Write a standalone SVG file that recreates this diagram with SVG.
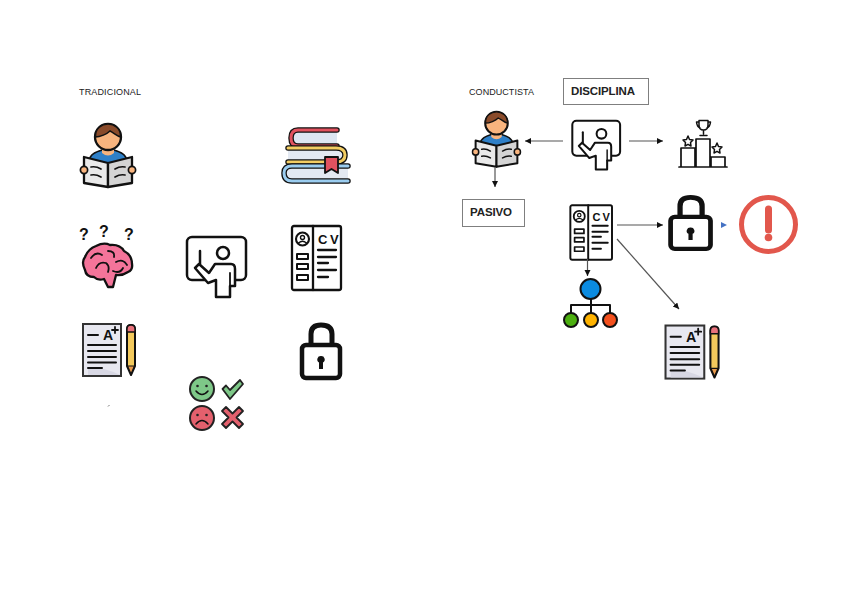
<svg xmlns="http://www.w3.org/2000/svg" width="848" height="599" viewBox="0 0 848 599">
<style>
.lbl{font-family:"Liberation Sans",Arial,sans-serif;fill:#222}
.small{font-size:9px}
.big{font-size:11.5px;font-weight:bold}
.box{fill:#fff;stroke:#7f7f7f;stroke-width:1}
.k{fill:none;stroke:#111;stroke-linecap:round;stroke-linejoin:round}
.w{fill:#fff;stroke:#111;stroke-linejoin:round}
.con{fill:none;stroke:#555;stroke-width:1.2}
.q{font-family:"Liberation Sans",Arial,sans-serif;font-size:16px;font-weight:bold;fill:#111;text-anchor:middle}
</style>
<defs>
<marker id="ah" markerWidth="8" markerHeight="8" refX="6" refY="3" orient="auto" markerUnits="userSpaceOnUse"><path d="M0 0L6 3L0 6Z" fill="#111"/></marker>
<g id="reader">
<path d="M8 38C9 31 15 29 21 27H33C39 29 45 31 46 38L27 44Z" fill="#2f80c8" stroke="#111" stroke-width="1.800"/>
<path d="M21 22H33V30Q27 35 21 30Z" fill="#f8b47e"/>
<circle cx="27" cy="14" r="13" fill="#f8b47e" stroke="#111" stroke-width="2.300"/>
<path d="M14.500 14C14 5 21 1 27 1C33 1 40 5 39.500 14C36 13 33 10 29 8C26 11 19 14 14.500 14Z" fill="#8a4b2a" stroke="#111" stroke-width="1.500"/>
<path d="M3 34L27 40L27 64L3 60Z" fill="#e9e9e9" stroke="#111" stroke-width="2.300" stroke-linejoin="round"/>
<path d="M51 34L27 40L27 64L51 60Z" fill="#d4d4d4" stroke="#111" stroke-width="2.300" stroke-linejoin="round"/>
<path class="k" stroke-width="1.700" d="M10 44Q15 43 20 46M10 52Q15 51 20 54M34 46Q39 43 44 44M34 54Q39 51 44 52"/>
<circle cx="3" cy="47" r="3.600" fill="#f8b47e" stroke="#111" stroke-width="1.700"/>
<circle cx="51" cy="47" r="3.600" fill="#f8b47e" stroke="#111" stroke-width="1.700"/>
</g>
<g id="teacher">
<rect x="1" y="1" width="59" height="43" rx="5" fill="#fff" stroke="#111" stroke-width="2.500"/>
<circle cx="37" cy="17" r="6" fill="#fff" stroke="#111" stroke-width="2.500"/>
<path class="k" stroke-width="2.500" d="M14 15V28"/>
<path class="w" stroke-width="2.500" d="M9 32L13 28L23 37L29 28H45Q49 28 49 33V50H44V61H30V44L22 47Z"/>
<path class="k" stroke-width="1.800" d="M44 37V50"/>
</g>
<g id="cv">
<rect x="1" y="1" width="49" height="64" rx="2" fill="#fff" stroke="#111" stroke-width="2.300"/>
<path class="k" stroke-width="2.300" d="M22 1V65"/>
<circle cx="11.500" cy="14" r="6.500" fill="none" stroke="#111" stroke-width="2.100"/>
<circle cx="11.500" cy="12.500" r="2" fill="none" stroke="#111" stroke-width="1.400"/>
<path class="k" stroke-width="1.400" d="M7.500 18Q11.500 14.500 15.500 18"/>
<path class="k" stroke-width="2" fill="none" d="M6 29H17V34H6ZM6 39H17V44H6ZM6 50H17V55H6Z"/>
<text x="27" y="19" font-family="Liberation Sans,Arial,sans-serif" font-size="13" font-weight="bold" letter-spacing="2.500" fill="#111">CV</text>
<path class="k" stroke-width="2.300" d="M27 25H45M27 32H45M27 38H37M27 45H45M27 52H37"/>
</g>
<g id="lock">
<path class="k" stroke-width="5" d="M11 23V11Q11 2 21 2Q32 2 32 11V23"/>
<rect x="2" y="22" width="38" height="33" rx="4" fill="#fff" stroke="#111" stroke-width="4.500"/>
<path d="M21 33a3.500 3.500 0 0 1 2 6.500V46H19V39.500A3.500 3.500 0 0 1 21 33Z" fill="#111"/>
</g>
<g id="paper">
<rect x="1" y="1" width="38" height="52" fill="#e8e8f0" stroke="#333" stroke-width="2"/>
<path d="M6 44Q22 44 38 52H6Z" fill="#d8d8e4"/>
<path class="k" stroke-width="2" d="M6 12H16M6 22H34M6 28H34M6 34H34M6 39.500H34M6 45H20"/>
<text x="21" y="17" font-family="Liberation Sans,Arial,sans-serif" font-size="14" font-weight="bold" fill="#111">A</text>
<path class="k" stroke-width="1.800" d="M33 4V10M30 7H36"/>
<path d="M45 6Q45 2 49 2Q53 2 53 6V43L49 52L45 43Z" fill="#f3c95c" stroke="#111" stroke-width="2" stroke-linejoin="round"/>
<path d="M45 6Q45 2 49 2Q53 2 53 6V9H45Z" fill="#e9727c" stroke="#111" stroke-width="1.400"/>
<path d="M45.500 43H52.500L49 51Z" fill="#e89a4c" stroke="#111" stroke-width="1.200"/>
</g>
</defs>
<rect width="848" height="599" fill="#fff"/>

<g id="label-tradicional"><text class="lbl small" x="79" y="95" textLength="62">TRADICIONAL</text></g>
<g id="label-conductista"><text class="lbl small" x="469" y="95" textLength="65">CONDUCTISTA</text></g>

<g id="reader-left"><use href="#reader" transform="translate(81,123)"/></g>

<g id="books">
<path d="M337 130H298Q291 130 291 138Q291 146 298 146H337V130Z" fill="#dde6f2"/>
<path class="k" stroke-width="5.500" d="M337 130H298Q291 130 291 138Q291 146 298 146H337"/>
<path fill="none" stroke="#e1525f" stroke-width="3" stroke-linecap="round" d="M337 130H298Q291 130 291 138Q291 146 298 146H337"/>
<path d="M288 148H336Q345 148 345 155Q345 162 336 162H288V148Z" fill="#e3e9f2"/>
<path class="k" stroke-width="5.500" d="M288 148H336Q345 148 345 155Q345 162 336 162H288"/>
<path fill="none" stroke="#f3cd63" stroke-width="3" stroke-linecap="round" d="M288 148H336Q345 148 345 155Q345 162 336 162H288"/>
<path d="M348 166H292Q284 166 284 173Q284 181 292 181H348V166Z" fill="#e3e9f2"/>
<path class="k" stroke-width="5.500" d="M348 166H292Q284 166 284 173Q284 181 292 181H348"/>
<path fill="none" stroke="#9bcdf0" stroke-width="3" stroke-linecap="round" d="M348 166H292Q284 166 284 173Q284 181 292 181H348"/>
<path d="M325 157H338V173L331.500 169L325 173Z" fill="#e1525f" stroke="#111" stroke-width="1.800" stroke-linejoin="round"/>
</g>

<g id="brain">
<text class="q" x="84" y="240">?</text><text class="q" x="104" y="237">?</text><text class="q" x="129" y="240">?</text>
<path d="M96 246Q104 242 110 245Q120 244 124 251Q132 255 132 264Q133 270 128 272Q122 276 116 275L113 287H108L104 279Q98 281 94 277Q86 277 85 270Q81 262 85 257Q88 249 96 246Z" fill="#f4749a" stroke="#111" stroke-width="2.300" stroke-linejoin="round"/>
<path class="k" stroke-width="1.800" d="M91 258Q96 251 102 255M108 251Q115 251 114 257M96 268Q99 261 106 263Q110 266 108 272M116 262Q123 258 127 265M113 271Q120 274 123 268"/>
</g>

<g id="teacher-left"><use href="#teacher" transform="translate(186,236)"/></g>
<g id="cv-left"><use href="#cv" transform="translate(291,225)"/></g>
<g id="paper-left"><use href="#paper" transform="translate(82,323)"/></g>
<g id="lock-left"><use href="#lock" transform="translate(300,323)"/></g>

<g id="tick"><path d="M108 406.500L109.500 405" stroke="#777" stroke-width="1" fill="none"/></g>

<g id="emotions">
<circle cx="202" cy="389" r="12" fill="#7ec888" stroke="#222" stroke-width="2"/>
<circle cx="197.500" cy="386" r="1.300" fill="#222"/><circle cx="206.500" cy="386" r="1.300" fill="#222"/>
<path class="k" stroke-width="1.500" d="M196 391Q202 398 208 391"/>
<path d="M222.500 389L226 385.500L230 390L240 380L243 384L230 399Z" fill="#7ec888" stroke="#222" stroke-width="1.800" stroke-linejoin="round"/>
<circle cx="202" cy="418" r="12" fill="#e4606d" stroke="#222" stroke-width="2"/>
<circle cx="197.500" cy="415" r="1.300" fill="#222"/><circle cx="206.500" cy="415" r="1.300" fill="#222"/>
<path class="k" stroke-width="1.500" d="M196 424Q202 417 208 424"/>
<path d="M222 411L226 407L232.500 413.500L239 407L243 411L236.500 417.500L243 424L239 428L232.500 421.500L226 428L222 424L228.500 417.500Z" fill="#e4606d" stroke="#222" stroke-width="1.800" stroke-linejoin="round"/>
</g>

<g id="box-disciplina"><rect class="box" x="563.500" y="78.500" width="85" height="26"/><text class="lbl big" x="571" y="95" textLength="64">DISCIPLINA</text></g>
<g id="box-pasivo"><rect class="box" x="462.500" y="199.500" width="62" height="27"/><text class="lbl big" x="470" y="216" textLength="42">PASIVO</text></g>

<g id="reader-right"><use href="#reader" transform="translate(473,111) scale(0.87)"/></g>
<g id="teacher-right"><use href="#teacher" transform="translate(571.500,120) scale(0.81)"/></g>

<g id="podium">
<path class="k" stroke-width="1.700" d="M679 167H727M681 167V148H695V167M696 167V139H710V167M711 167V157H725V167"/>
<path class="k" stroke-width="1.500" d="M699 120.500H708V125Q708 130 703.500 130Q699 130 699 125ZM699 122H696.500Q697 127 700 128M708 122H710.500Q710 127 707 128M703.500 130V134M700 135.500H707"/>
<path class="k" stroke-width="1.500" d="M688 136L689.500 139.500L693 140L690.500 142.500L691 146L688 144.300L685 146L685.500 142.500L683 140L686.500 139.500Z"/>
<path class="k" stroke-width="1.500" d="M717 143L718.500 146.500L722 147L719.500 149.500L720 153L717 151.300L714 153L714.500 149.500L712 147L715.500 146.500Z"/>
</g>

<g id="cv-right"><use href="#cv" transform="translate(569.500,204.500) scale(0.85)"/></g>
<g id="lock-right"><use href="#lock" transform="translate(668.500,195.500) scale(1.050,0.970)"/></g>

<g id="alert">
<circle cx="768.500" cy="224.500" r="27" fill="#fff" stroke="#e2574c" stroke-width="5"/>
<path d="M768.500 209V230" stroke="#e2574c" stroke-width="7" stroke-linecap="round" fill="none"/>
<circle cx="768.500" cy="237.500" r="3.800" fill="#e2574c"/>
</g>

<g id="hierarchy">
<path class="k" stroke-width="2" d="M591 299V313M571 313V305H610V313"/>
<circle cx="590.500" cy="289" r="10" fill="#0b8be0" stroke="#111" stroke-width="2"/>
<circle cx="571" cy="320" r="7" fill="#4caf10" stroke="#111" stroke-width="2"/>
<circle cx="591" cy="320" r="7" fill="#ffb300" stroke="#111" stroke-width="2"/>
<circle cx="610" cy="320" r="7" fill="#f4511e" stroke="#111" stroke-width="2"/>
</g>

<g id="paper-right"><use href="#paper" transform="translate(664.500,324.500) scale(1.020)"/></g>

<g id="connectors">
<path class="con" d="M563 141H525" marker-end="url(#ah)"/>
<path class="con" d="M629 141H663" marker-end="url(#ah)"/>
<path class="con" d="M495 167V187" marker-end="url(#ah)"/>
<path class="con" d="M617 225H663" marker-end="url(#ah)"/>
<path class="con" d="M617 239L679 309" marker-end="url(#ah)"/>
<path class="con" d="M587.500 259V276" marker-end="url(#ah)"/>
<path d="M721 222L727 225L721 228Z" fill="#4472c4"/>
</g>
</svg>
